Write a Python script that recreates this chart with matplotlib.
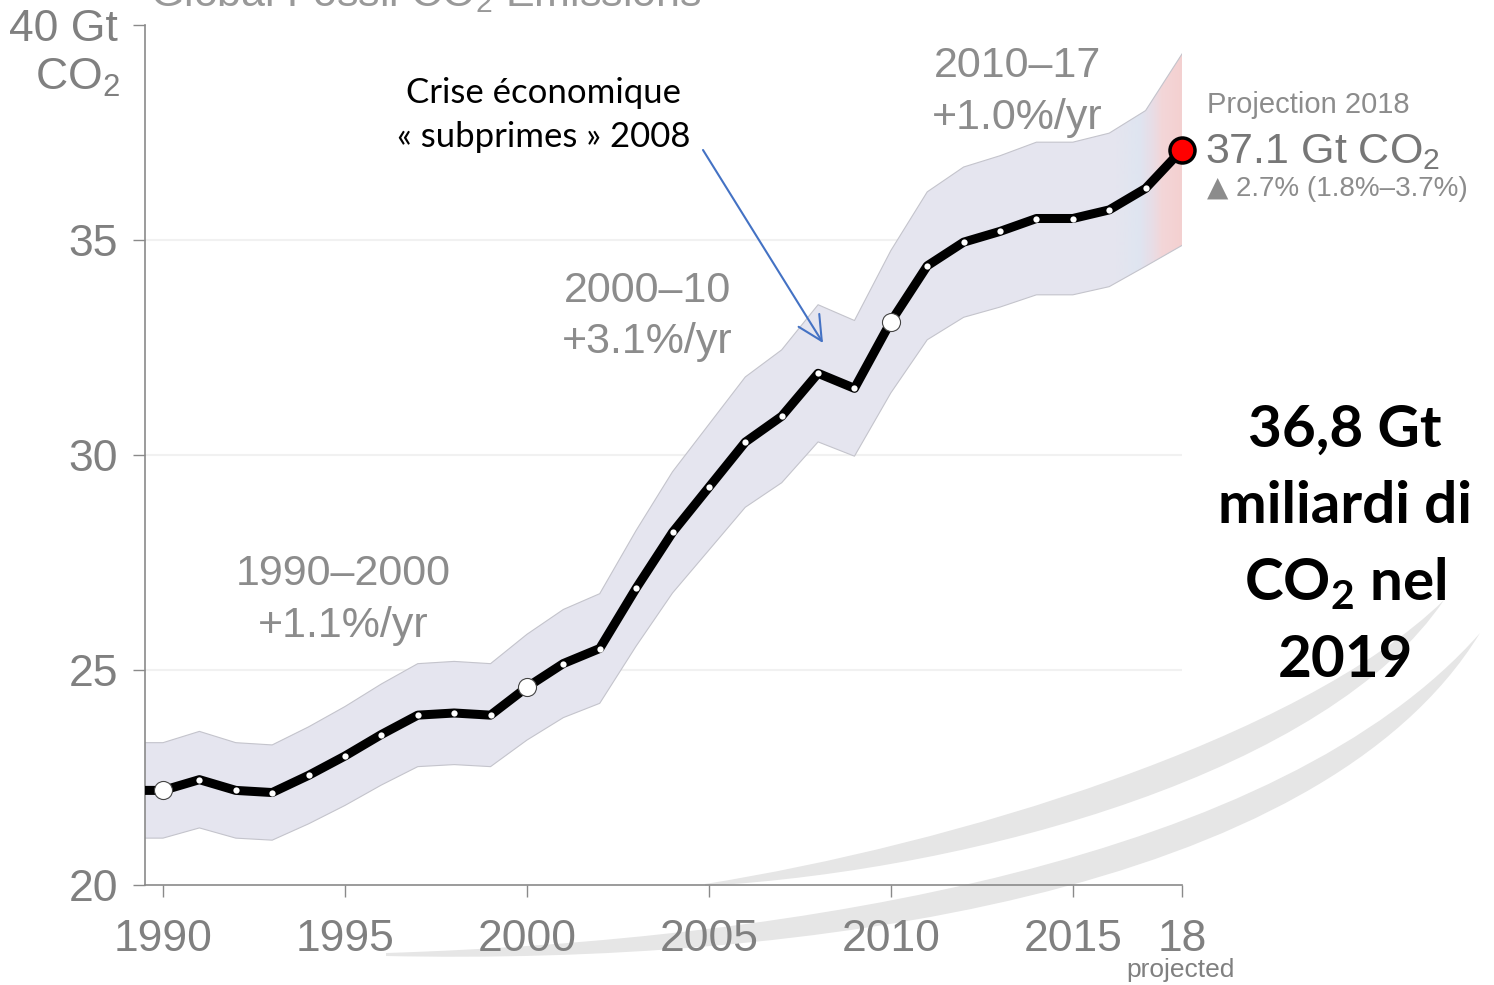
import numpy as np
import matplotlib
matplotlib.use("Agg")
import matplotlib.pyplot as plt
from matplotlib.path import Path
from matplotlib.patches import PathPatch, Polygon
from matplotlib.colors import LinearSegmentedColormap
from matplotlib.transforms import Affine2D

# ---------------------------------------------------------------- data
years = [1989, 1990, 1991, 1992, 1993, 1994, 1995, 1996, 1997, 1998, 1999,
         2000, 2001, 2002, 2003, 2004, 2005, 2006, 2007, 2008, 2009,
         2010, 2011, 2012, 2013, 2014, 2015, 2016, 2017, 2018]
emissions = [22.2, 22.2, 22.45, 22.2, 22.15, 22.55, 23.0, 23.5, 23.95, 24.0, 23.95,
             24.6, 25.15, 25.5, 26.9, 28.2, 29.25, 30.3, 30.9, 31.9, 31.55,
             33.1, 34.4, 34.95, 35.2, 35.5, 35.5, 35.7, 36.2, 37.1]
# half-width of the uncertainty band, in percent of the value
band_pct = [5.0, 5.0, 5.0, 5.0, 5.0, 5.0, 5.0, 5.0, 5.0, 5.0, 5.0,
            5.0, 5.0, 5.0, 5.0, 5.0, 5.0, 5.0, 5.0, 5.0, 5.0,
            5.0, 5.0, 5.0, 5.0, 5.0, 5.0, 5.0, 5.0, 6.0]
highlight_years = [1990, 2000, 2010]
projection_year = 2018
projection_growth = "2.7% (1.8%–3.7%)"

x_ticks = [1990, 1995, 2000, 2005, 2010, 2015, 2018]
x_tick_labels = ["1990", "1995", "2000", "2005", "2010", "2015", "18"]
y_ticks = [20, 25, 30, 35, 40]
y_tick_labels = ["20", "25", "30", "35", "40 Gt"]

periods = [("1990–2000", "+1.1%/yr"), ("2000–10", "+3.1%/yr"), ("2010–17", "+1.0%/yr")]

# ---------------------------------------------------------------- style
plt.rcParams["font.family"] = ["Liberation Sans", "DejaVu Sans"]
plt.rcParams["mathtext.fontset"] = "custom"
plt.rcParams["mathtext.rm"] = "Liberation Sans"
plt.rcParams["mathtext.it"] = "Liberation Sans:italic"
plt.rcParams["mathtext.bf"] = "Lato:bold"

GREY = "#808080"
LIGHT_GREY = "#8c8c8c"

W, H = 1494, 985
fig = plt.figure(figsize=(W / 100, H / 100), dpi=100)
fig.patch.set_facecolor("white")


def fx(px):
    return px / W


def fy(py):
    return 1 - py / H


# axes placed so that 1990..2018 and 20..40 land on the frame
left_px, right_px, top_px, bottom_px = 145, 1182, 25, 885
x1990_px = 163
px_per_year = (right_px - x1990_px) / (2018 - 1990)
ax = fig.add_axes([fx(left_px), fy(bottom_px), (right_px - left_px) / W,
                   (bottom_px - top_px) / H])
ax.set_xlim(1990 - (x1990_px - left_px) / px_per_year, 2018)
ax.set_ylim(20, 40)
ax.set_facecolor("none")

# ---------------------------------------------------------------- background swooshes
px_tr = Affine2D().scale(1 / W, -1 / H).translate(0, 1) + fig.transFigure


def crescent(top, bottom, color):
    # top edge left->right, then bottom edge walked back right->left
    verts = [top[0], top[1], top[2], top[3],
             bottom[2], bottom[1], bottom[0], top[0]]
    codes = [Path.MOVETO, Path.CURVE4, Path.CURVE4, Path.CURVE4,
             Path.CURVE4, Path.CURVE4, Path.CURVE4, Path.CLOSEPOLY]
    p = PathPatch(Path(verts, codes), facecolor=color, edgecolor="none",
                  transform=px_tr, zorder=-5)
    fig.patches.append(p)


crescent([(705, 884), (950, 845), (1300, 740), (1444, 600)],
         [(705, 886), (980, 870), (1330, 770), (1444, 600)], "#e6e6e6")
crescent([(386, 953), (800, 940), (1280, 860), (1480, 633)],
         [(386, 956), (800, 965), (1320, 895), (1480, 633)], "#e6e6e6")

# ---------------------------------------------------------------- grid
for gy in [25, 30, 35]:
    ax.axhline(gy, color="#f1f1f1", lw=1.5, zorder=0.5)

# ---------------------------------------------------------------- uncertainty band
yrs = np.array(years, dtype=float)
e = np.array(emissions)
p = np.array(band_pct) / 100.0
upper = e * (1 + p)
lower = e * (1 - p)

band_verts = np.vstack([np.column_stack([yrs, upper]),
                        np.column_stack([yrs[::-1], lower[::-1]])])
band = Polygon(band_verts, closed=True, facecolor="#e5e5ef", edgecolor="none",
               zorder=1)
ax.add_patch(band)

# projection part of the band fades from lavender through blue to pink
grad_cmap = LinearSegmentedColormap.from_list(
    "proj", [(0.0, "#e5e5ef"), (0.35, "#dfe5f1"), (0.55, "#e8dde6"),
             (0.7, "#f3d6d8"), (1.0, "#f4d0d0")])
grad = np.linspace(0, 1, 256).reshape(1, -1)
im = ax.imshow(grad, cmap=grad_cmap, extent=[2016.2, 2018, 20, 40],
               aspect="auto", zorder=1.1, interpolation="bilinear")
im.set_clip_path(band)

ax.plot(yrs, upper, color="#c4c4cc", lw=0.8, zorder=1.2)
ax.plot(yrs, lower, color="#c4c4cc", lw=0.8, zorder=1.2)

# ---------------------------------------------------------------- emission line
ax.plot(yrs, e, color="black", lw=6.5, solid_joinstyle="round",
        solid_capstyle="butt", zorder=3)

small = [(y, v) for y, v in zip(years, emissions)
         if y not in highlight_years and y != projection_year]
ax.plot([s[0] for s in small], [s[1] for s in small], "o", ms=4.5,
        mfc="white", mec="none", zorder=4)
big = [(y, v) for y, v in zip(years, emissions) if y in highlight_years]
ax.plot([b[0] for b in big], [b[1] for b in big], "o", ms=13,
        mfc="white", mec="#444444", mew=0.8, zorder=4)
proj_value = emissions[years.index(projection_year)]
ax.plot([projection_year], [proj_value], "o", ms=18, mfc="#ff0000",
        mec="black", mew=2.5, zorder=5, clip_on=False)

# ---------------------------------------------------------------- axes styling
for side in ["top", "right"]:
    ax.spines[side].set_visible(False)
for side in ["left", "bottom"]:
    ax.spines[side].set_color("#8a8a8a")
    ax.spines[side].set_linewidth(1.2)

ax.set_xticks(x_ticks)
ax.set_xticklabels(x_tick_labels)
ax.set_yticks(y_ticks)
ax.set_yticklabels(y_tick_labels)
ax.tick_params(axis="both", direction="out", length=8.6, width=1.0,
               color="#8a8a8a", labelcolor=GREY, labelsize=32)
ax.tick_params(axis="x", pad=16)
ax.tick_params(axis="y", pad=11)

fig.text(fx(120), fy(90), "CO$_2$", ha="right", va="baseline", size=32,
         color=GREY)
fig.text(fx(1181), fy(977), "projected", ha="center", va="baseline", size=19,
         color=GREY)

# partially visible heading at the very top
fig.text(fx(150), fy(6), "Global Fossil CO$_2$ Emissions", ha="left",
         va="baseline", size=31, color="#999999")

# ---------------------------------------------------------------- period labels
period_pos = [(343, 585, 637), (647, 302, 353), (1017, 77, 129)]
for (l1, l2), (cx, b1, b2) in zip(periods, period_pos):
    fig.text(fx(cx), fy(b1), l1, ha="center", va="baseline", size=31,
             color=LIGHT_GREY)
    fig.text(fx(cx), fy(b2), l2, ha="center", va="baseline", size=31,
             color=LIGHT_GREY)

# ---------------------------------------------------------------- projection label
fig.text(fx(1207), fy(113), f"Projection {projection_year}", ha="left",
         va="baseline", size=21, color=LIGHT_GREY)
fig.text(fx(1205), fy(163), f"{proj_value:.1f} Gt CO$_2$", ha="left",
         va="baseline", size=31, color="#777777")
fig.text(fx(1207), fy(196), "▲", ha="left", va="baseline", size=20,
         family="DejaVu Sans", color=LIGHT_GREY)
fig.text(fx(1236), fy(196), projection_growth, ha="left",
         va="baseline", size=20, color=LIGHT_GREY)

# ---------------------------------------------------------------- crisis annotation
fig.text(fx(543), fy(103), "Crise économique", ha="center", va="baseline",
         size=25, family="Lato", color="black")
fig.text(fx(544), fy(147), "« subprimes » 2008", ha="center", va="baseline",
         size=25, family="Lato", color="black")


def px_to_data(px, py):
    xd = 1990 + (px - x1990_px) / px_per_year
    yd = 20 + (bottom_px - py) * 20 / (bottom_px - top_px)
    return xd, yd


ax.annotate("", xy=px_to_data(823, 343), xytext=px_to_data(703, 150),
            arrowprops=dict(arrowstyle="->,head_length=0.7,head_width=0.35",
                            color="#4472c4", lw=1.5, mutation_scale=25,
                            shrinkA=0, shrinkB=0),
            annotation_clip=False, zorder=6)

# ---------------------------------------------------------------- headline figure
big_lines = [("36,8 Gt", 447), ("miliardi di", 523),
             (r"CO$_\mathbf{2}$ nel", 600), ("2019", 677)]
for txt, base in big_lines:
    fig.text(fx(1345), fy(base), txt, ha="center", va="baseline", size=42,
             family="Lato", weight="bold", color="black")

fig.savefig("out.png", dpi=100, facecolor="white")
